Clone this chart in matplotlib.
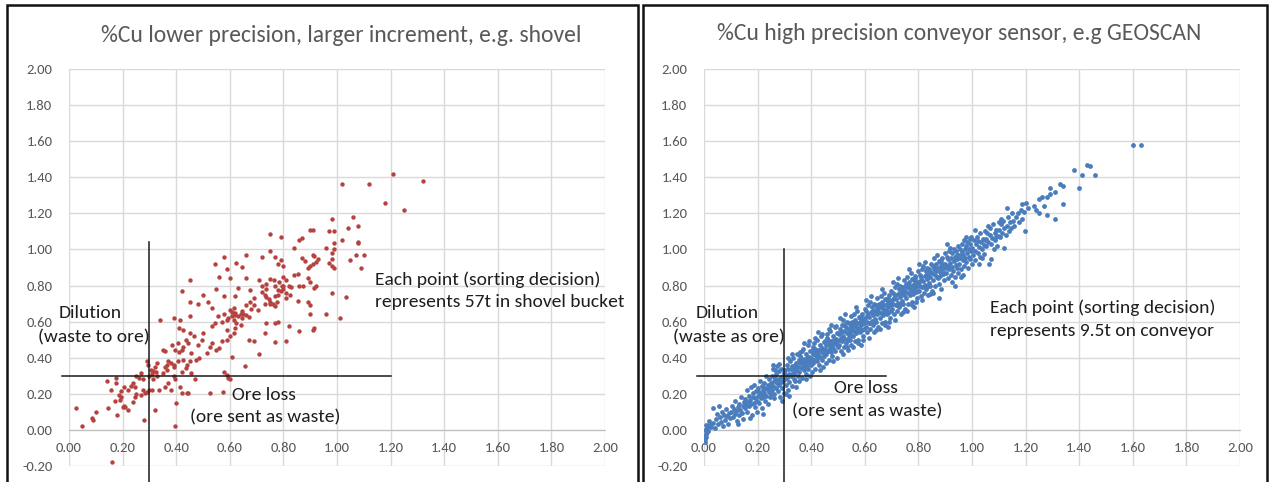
import matplotlib

matplotlib.use("Agg")
import matplotlib.pyplot as plt
from matplotlib import font_manager
from matplotlib.patches import Rectangle

shovel_pts = [
    (1.21, 1.42), (1.32, 1.38), (1.02, 1.36), (1.12, 1.36), (1.18, 1.26), (1.25, 1.22),
    (1.06, 1.18), (0.98, 1.17), (1.08, 1.13), (0.90, 1.11), (0.91, 1.11), (1.04, 1.12),
    (0.97, 1.10), (0.99, 1.10), (0.75, 1.085), (0.79, 1.07), (0.87, 1.065), (0.86, 1.05),
    (1.02, 1.05), (1.08, 1.04), (1.08, 1.035), (0.99, 1.035), (0.84, 1.01), (0.96, 1.01),
    (0.99, 1.00), (0.75, 0.99), (0.66, 0.97), (0.91, 0.97), (0.915, 0.965), (0.58, 0.96),
    (0.77, 0.96), (0.72, 0.96), (0.93, 0.945), (0.92, 0.93), (0.91, 0.92), (0.98, 0.98),
    (0.98, 0.945), (1.07, 0.97), (1.10, 0.97), (1.05, 0.94), (0.79, 0.94), (0.78, 0.92),
    (0.80, 0.91), (0.625, 0.925), (0.645, 0.905), (0.545, 0.92), (0.59, 0.89), (0.98, 0.91),
    (0.99, 0.90), (0.97, 0.925), (1.09, 0.895), (0.89, 0.90), (0.90, 0.91), (0.88, 0.935),
    (0.87, 0.95), (0.45, 0.83), (0.42, 0.77), (0.45, 0.71), (0.48, 0.70), (0.50, 0.75),
    (0.52, 0.71), (0.535, 0.675), (0.55, 0.78), (0.56, 0.85), (0.58, 0.74), (0.60, 0.84),
    (0.62, 0.74), (0.63, 0.785), (0.66, 0.84), (0.675, 0.775), (0.69, 0.73), (0.71, 0.83),
    (0.72, 0.80), (0.735, 0.81), (0.735, 0.78), (0.75, 0.835), (0.765, 0.83), (0.77, 0.795),
    (0.785, 0.82), (0.80, 0.80), (0.78, 0.775), (0.80, 0.85), (0.81, 0.83), (0.82, 0.795),
    (0.83, 0.79), (0.84, 0.86), (0.855, 0.865), (0.86, 0.795), (0.875, 0.80), (0.89, 0.84),
    (0.90, 0.82), (0.915, 0.785), (0.92, 0.795), (0.98, 0.76), (1.035, 0.735), (0.90, 0.69),
    (0.89, 0.71), (0.855, 0.715), (0.96, 0.645), (1.01, 0.62), (0.90, 0.64), (0.86, 0.55),
    (0.91, 0.555), (0.915, 0.565), (0.72, 0.765), (0.73, 0.75), (0.735, 0.735), (0.745, 0.725),
    (0.75, 0.71), (0.76, 0.70), (0.77, 0.74), (0.775, 0.71), (0.78, 0.75), (0.75, 0.70),
    (0.77, 0.685), (0.73, 0.70), (0.69, 0.69), (0.705, 0.665), (0.66, 0.69), (0.675, 0.71),
    (0.68, 0.67), (0.645, 0.66), (0.65, 0.64), (0.62, 0.65), (0.61, 0.63), (0.615, 0.61),
    (0.595, 0.62), (0.58, 0.64), (0.59, 0.61), (0.57, 0.60), (0.555, 0.63), (0.545, 0.595),
    (0.535, 0.575), (0.60, 0.665), (0.615, 0.675), (0.735, 0.595), (0.77, 0.59), (0.78, 0.60),
    (0.71, 0.42), (0.67, 0.50), (0.69, 0.49), (0.77, 0.485), (0.81, 0.49), (0.82, 0.575),
    (0.73, 0.535), (0.655, 0.355), (0.61, 0.405), (0.615, 0.535), (0.62, 0.565), (0.59, 0.555),
    (0.60, 0.52), (0.59, 0.50), (0.57, 0.49), (0.56, 0.455), (0.55, 0.445), (0.525, 0.46),
    (0.535, 0.48), (0.515, 0.425), (0.495, 0.50), (0.50, 0.535), (0.48, 0.47), (0.485, 0.40),
    (0.475, 0.39), (0.465, 0.52), (0.45, 0.535), (0.435, 0.50), (0.445, 0.48), (0.425, 0.46),
    (0.42, 0.445), (0.415, 0.61), (0.45, 0.63), (0.34, 0.61), (0.39, 0.62), (0.41, 0.565),
    (0.425, 0.555), (0.405, 0.48), (0.395, 0.445), (0.41, 0.43), (0.36, 0.435), (0.35, 0.445),
    (0.37, 0.38), (0.38, 0.37), (0.39, 0.36), (0.36, 0.35), (0.365, 0.33), (0.35, 0.315),
    (0.32, 0.35), (0.33, 0.37), (0.29, 0.38), (0.295, 0.36), (0.305, 0.33), (0.315, 0.325),
    (0.325, 0.32), (0.31, 0.31), (0.33, 0.30), (0.315, 0.28), (0.30, 0.30), (0.27, 0.315),
    (0.26, 0.285), (0.275, 0.28), (0.25, 0.30), (0.24, 0.26), (0.245, 0.24), (0.23, 0.245),
    (0.205, 0.24), (0.22, 0.22), (0.175, 0.285), (0.175, 0.26), (0.14, 0.27), (0.195, 0.215),
    (0.185, 0.195), (0.195, 0.185), (0.19, 0.165), (0.155, 0.22), (0.17, 0.16), (0.205, 0.13),
    (0.20, 0.125), (0.21, 0.125), (0.22, 0.11), (0.24, 0.155), (0.27, 0.195), (0.275, 0.22),
    (0.285, 0.205), (0.29, 0.21), (0.30, 0.22), (0.25, 0.20), (0.245, 0.185), (0.31, 0.22),
    (0.335, 0.22), (0.32, 0.11), (0.28, 0.055), (0.145, 0.12), (0.10, 0.10), (0.085, 0.065),
    (0.09, 0.055), (0.025, 0.12), (0.05, 0.02), (0.18, 0.085), (0.16, -0.18), (0.395, 0.02),
    (0.40, 0.15), (0.36, 0.24), (0.37, 0.26), (0.38, 0.22), (0.39, 0.30), (0.395, 0.28),
    (0.415, 0.24), (0.42, 0.205), (0.44, 0.205), (0.445, 0.205), (0.47, 0.28), (0.455, 0.315),
    (0.525, 0.205), (0.575, 0.21), (0.58, 0.32), (0.59, 0.305), (0.595, 0.29), (0.60, 0.28),
    (0.42, 0.32), (0.435, 0.345), (0.44, 0.36), (0.45, 0.38), (0.425, 0.39), (0.405, 0.38),
    (0.455, 0.425), (0.385, 0.47), (0.39, 0.35), (0.365, 0.36), (0.61, 0.655), (0.62, 0.635),
    (0.63, 0.63), (0.64, 0.645), (0.645, 0.62), (0.66, 0.635), (0.67, 0.625), (0.625, 0.59),
    (0.64, 0.58), (0.795, 0.795), (0.80, 0.78), (0.81, 0.76), (0.79, 0.77), (0.81, 0.73),
    (0.825, 0.75),
]

conveyor_low = [
    (0.003, -0.065), (0.005, -0.05), (0.004, -0.035), (0.008, -0.04), (0.006, -0.02), (0.010, -0.01),
    (0.004, 0.0), (0.012, 0.01), (0.015, -0.005), (0.018, 0.02), (0.022, 0.03), (0.009, 0.025),
    (0.026, 0.015), (0.020, 0.05),
    (0.032, 0.04), (0.035, 0.12), (0.040, 0.01), (0.045, 0.06), (0.048, 0.09), (0.052, 0.03),
    (0.055, 0.13), (0.058, 0.07), (0.062, 0.045), (0.066, 0.10), (0.070, 0.02), (0.073, 0.08),
    (0.077, 0.055), (0.081, 0.115), (0.085, 0.075), (0.089, 0.035), (0.093, 0.095), (0.097, 0.065),
    (0.102, 0.10), (0.105, 0.13), (0.108, 0.07), (0.111, 0.115), (0.114, 0.09), (0.117, 0.16),
    (0.120, 0.105), (0.123, 0.05), (0.126, 0.125), (0.129, 0.085), (0.132, 0.145), (0.135, 0.11),
    (0.138, 0.18), (0.141, 0.095), (0.144, 0.13), (0.147, 0.06), (0.128, 0.03), (0.149, 0.155),
    (0.152, 0.12), (0.154, 0.17), (0.157, 0.14), (0.159, 0.22), (0.162, 0.10), (0.164, 0.155),
    (0.167, 0.19), (0.169, 0.13), (0.172, 0.165), (0.174, 0.24), (0.177, 0.145), (0.179, 0.085),
    (0.182, 0.18), (0.184, 0.205), (0.187, 0.15), (0.189, 0.125), (0.192, 0.175), (0.194, 0.215),
    (0.196, 0.16), (0.198, 0.10), (0.171, 0.065), (0.186, 0.25),
    (0.201, 0.19), (0.203, 0.23), (0.205, 0.15), (0.207, 0.21), (0.209, 0.27), (0.211, 0.175),
    (0.213, 0.2), (0.215, 0.245), (0.217, 0.12), (0.219, 0.22), (0.221, 0.185), (0.223, 0.26),
    (0.225, 0.205), (0.227, 0.16), (0.229, 0.235), (0.231, 0.3), (0.233, 0.19), (0.235, 0.225),
    (0.237, 0.145), (0.239, 0.25), (0.241, 0.21), (0.243, 0.28), (0.245, 0.18), (0.247, 0.24),
    (0.249, 0.2), (0.222, 0.09),
    (0.251, 0.26), (0.253, 0.22), (0.255, 0.3), (0.257, 0.245), (0.259, 0.34), (0.261, 0.27),
    (0.263, 0.2), (0.265, 0.285), (0.267, 0.235), (0.269, 0.31), (0.271, 0.26), (0.273, 0.355),
    (0.275, 0.215), (0.277, 0.275), (0.279, 0.325), (0.281, 0.25), (0.283, 0.29), (0.285, 0.185),
    (0.287, 0.265), (0.289, 0.34), (0.291, 0.23), (0.293, 0.3), (0.295, 0.27), (0.297, 0.205),
    (0.299, 0.315), (0.258, 0.36), (0.266, 0.33), (0.278, 0.365), (0.29, 0.16), (0.262, 0.175),
]

conveyor_mid = [
    (0.301, 0.28), (0.303, 0.33), (0.305, 0.25), (0.307, 0.305), (0.309, 0.36), (0.311, 0.29),
    (0.313, 0.22), (0.315, 0.34), (0.317, 0.31), (0.319, 0.265), (0.321, 0.38), (0.323, 0.3),
    (0.325, 0.335), (0.327, 0.245), (0.329, 0.355), (0.331, 0.315), (0.333, 0.4), (0.335, 0.28),
    (0.337, 0.345), (0.339, 0.325), (0.341, 0.27), (0.343, 0.37), (0.345, 0.33), (0.347, 0.42),
    (0.349, 0.3), (0.306, 0.2), (0.318, 0.19), (0.328, 0.42), (0.338, 0.36), (0.344, 0.24),
    (0.312, 0.4), (0.334, 0.31),
    (0.351, 0.35), (0.353, 0.39), (0.355, 0.32), (0.357, 0.37), (0.359, 0.43), (0.361, 0.345),
    (0.363, 0.4), (0.365, 0.29), (0.367, 0.38), (0.369, 0.36), (0.371, 0.45), (0.373, 0.33),
    (0.375, 0.395), (0.377, 0.37), (0.379, 0.31), (0.381, 0.42), (0.383, 0.355), (0.385, 0.385),
    (0.387, 0.47), (0.389, 0.34), (0.391, 0.405), (0.393, 0.375), (0.395, 0.3), (0.397, 0.435),
    (0.399, 0.36), (0.356, 0.27), (0.366, 0.44), (0.374, 0.48), (0.382, 0.28), (0.392, 0.49),
    (0.358, 0.41), (0.372, 0.35), (0.386, 0.4), (0.398, 0.39),
    (0.401, 0.4), (0.403, 0.44), (0.405, 0.37), (0.407, 0.42), (0.409, 0.48), (0.411, 0.39),
    (0.413, 0.45), (0.415, 0.34), (0.417, 0.43), (0.419, 0.41), (0.421, 0.5), (0.423, 0.38),
    (0.425, 0.445), (0.427, 0.42), (0.429, 0.36), (0.431, 0.47), (0.433, 0.405), (0.435, 0.435),
    (0.437, 0.52), (0.439, 0.39), (0.441, 0.455), (0.443, 0.425), (0.445, 0.35), (0.447, 0.485),
    (0.449, 0.41), (0.404, 0.32), (0.416, 0.51), (0.424, 0.54), (0.432, 0.33), (0.442, 0.53),
    (0.408, 0.46), (0.422, 0.4), (0.436, 0.45), (0.448, 0.44),
    (0.451, 0.45), (0.453, 0.49), (0.455, 0.42), (0.457, 0.47), (0.459, 0.53), (0.461, 0.44),
    (0.463, 0.5), (0.465, 0.39), (0.467, 0.48), (0.469, 0.46), (0.471, 0.55), (0.473, 0.43),
    (0.475, 0.495), (0.477, 0.47), (0.479, 0.41), (0.481, 0.52), (0.483, 0.455), (0.485, 0.485),
    (0.487, 0.57), (0.489, 0.44), (0.491, 0.505), (0.493, 0.475), (0.495, 0.4), (0.497, 0.535),
    (0.499, 0.46), (0.454, 0.37), (0.466, 0.56), (0.474, 0.58), (0.482, 0.38), (0.492, 0.575),
    (0.458, 0.51), (0.472, 0.45), (0.486, 0.5), (0.498, 0.49),
    (0.502, 0.53), (0.504, 0.47), (0.506, 0.56), (0.508, 0.5), (0.51, 0.44), (0.512, 0.54),
    (0.514, 0.58), (0.516, 0.49), (0.518, 0.52), (0.52, 0.61), (0.522, 0.46), (0.524, 0.55),
    (0.526, 0.505), (0.528, 0.57), (0.53, 0.48), (0.532, 0.535), (0.534, 0.6), (0.536, 0.445),
    (0.538, 0.56), (0.54, 0.515), (0.542, 0.59), (0.544, 0.5), (0.546, 0.545), (0.548, 0.63),
    (0.55, 0.47), (0.507, 0.62), (0.517, 0.42), (0.527, 0.64), (0.537, 0.5), (0.547, 0.575),
    (0.511, 0.51), (0.523, 0.58), (0.533, 0.46), (0.545, 0.53),
    (0.551, 0.56), (0.553, 0.6), (0.555, 0.52), (0.557, 0.58), (0.559, 0.64), (0.561, 0.55),
    (0.563, 0.49), (0.565, 0.61), (0.567, 0.57), (0.569, 0.535), (0.571, 0.66), (0.573, 0.59),
    (0.575, 0.5), (0.577, 0.625), (0.579, 0.565), (0.581, 0.545), (0.583, 0.6), (0.585, 0.47),
    (0.587, 0.58), (0.589, 0.645), (0.591, 0.555), (0.593, 0.61), (0.595, 0.52), (0.597, 0.59),
    (0.599, 0.67), (0.556, 0.46), (0.566, 0.68), (0.576, 0.48), (0.586, 0.63), (0.596, 0.56),
    (0.562, 0.585), (0.572, 0.55), (0.582, 0.62), (0.592, 0.5),
    (0.601, 0.62), (0.603, 0.57), (0.605, 0.66), (0.607, 0.6), (0.609, 0.54), (0.611, 0.645),
    (0.613, 0.69), (0.615, 0.59), (0.617, 0.625), (0.619, 0.71), (0.621, 0.56), (0.623, 0.655),
    (0.625, 0.605), (0.627, 0.68), (0.629, 0.58), (0.631, 0.635), (0.633, 0.7), (0.635, 0.545),
    (0.637, 0.66), (0.639, 0.615), (0.641, 0.69), (0.643, 0.6), (0.645, 0.645), (0.647, 0.73),
    (0.649, 0.57), (0.604, 0.72), (0.614, 0.51), (0.624, 0.74), (0.634, 0.6), (0.644, 0.675),
    (0.608, 0.63), (0.62, 0.59), (0.63, 0.66), (0.642, 0.555),
    (0.651, 0.66), (0.653, 0.7), (0.655, 0.62), (0.657, 0.68), (0.659, 0.74), (0.661, 0.65),
    (0.663, 0.59), (0.665, 0.71), (0.667, 0.67), (0.669, 0.635), (0.671, 0.76), (0.673, 0.69),
    (0.675, 0.6), (0.677, 0.725), (0.679, 0.665), (0.681, 0.645), (0.683, 0.7), (0.685, 0.57),
    (0.687, 0.68), (0.689, 0.745), (0.691, 0.655), (0.693, 0.71), (0.695, 0.62), (0.697, 0.69),
    (0.699, 0.77), (0.656, 0.56), (0.666, 0.78), (0.676, 0.58), (0.686, 0.73), (0.696, 0.66),
    (0.662, 0.685), (0.672, 0.65), (0.682, 0.72), (0.692, 0.6),
]

conveyor_high = [
    (0.701, 0.72), (0.703, 0.67), (0.705, 0.76), (0.707, 0.7), (0.709, 0.64), (0.711, 0.745),
    (0.713, 0.79), (0.715, 0.69), (0.717, 0.725), (0.719, 0.81), (0.721, 0.66), (0.723, 0.755),
    (0.725, 0.705), (0.727, 0.78), (0.729, 0.68), (0.731, 0.735), (0.733, 0.8), (0.735, 0.645),
    (0.737, 0.76), (0.739, 0.715), (0.741, 0.79), (0.743, 0.7), (0.745, 0.745), (0.747, 0.83),
    (0.749, 0.67), (0.704, 0.82), (0.714, 0.61), (0.724, 0.84), (0.734, 0.7), (0.744, 0.775),
    (0.708, 0.73), (0.72, 0.69), (0.73, 0.76), (0.742, 0.655),
    (0.751, 0.77), (0.753, 0.81), (0.755, 0.73), (0.757, 0.79), (0.759, 0.85), (0.761, 0.76),
    (0.763, 0.7), (0.765, 0.82), (0.767, 0.78), (0.769, 0.745), (0.771, 0.87), (0.773, 0.8),
    (0.775, 0.71), (0.777, 0.835), (0.779, 0.775), (0.781, 0.755), (0.783, 0.81), (0.785, 0.68),
    (0.787, 0.79), (0.789, 0.855), (0.791, 0.765), (0.793, 0.82), (0.795, 0.73), (0.797, 0.8),
    (0.799, 0.88), (0.756, 0.66), (0.766, 0.89), (0.776, 0.69), (0.786, 0.84), (0.796, 0.77),
    (0.762, 0.795), (0.772, 0.76), (0.782, 0.83), (0.792, 0.71),
    (0.801, 0.82), (0.803, 0.77), (0.805, 0.86), (0.807, 0.8), (0.809, 0.74), (0.811, 0.845),
    (0.813, 0.89), (0.815, 0.79), (0.817, 0.825), (0.819, 0.91), (0.821, 0.76), (0.823, 0.855),
    (0.825, 0.805), (0.827, 0.88), (0.829, 0.78), (0.831, 0.835), (0.833, 0.9), (0.835, 0.745),
    (0.837, 0.86), (0.839, 0.815), (0.841, 0.89), (0.843, 0.8), (0.845, 0.845), (0.847, 0.92),
    (0.849, 0.77), (0.804, 0.92), (0.814, 0.72), (0.824, 0.93), (0.834, 0.8), (0.844, 0.875),
    (0.808, 0.83), (0.82, 0.79), (0.83, 0.86), (0.842, 0.755),
    (0.851, 0.87), (0.853, 0.91), (0.855, 0.83), (0.857, 0.89), (0.859, 0.95), (0.861, 0.86),
    (0.863, 0.8), (0.865, 0.92), (0.867, 0.88), (0.869, 0.845), (0.871, 0.97), (0.873, 0.9),
    (0.875, 0.81), (0.877, 0.935), (0.879, 0.875), (0.881, 0.855), (0.883, 0.91), (0.885, 0.78),
    (0.887, 0.89), (0.889, 0.955), (0.891, 0.865), (0.893, 0.92), (0.895, 0.83), (0.897, 0.9),
    (0.899, 0.98), (0.856, 0.76), (0.878, 0.73), (0.886, 0.94), (0.896, 0.87), (0.862, 0.895),
    (0.872, 0.84), (0.882, 0.93),
    (0.901, 0.92), (0.903, 0.87), (0.905, 0.96), (0.907, 0.9), (0.909, 0.84), (0.911, 0.945),
    (0.913, 0.99), (0.915, 0.89), (0.917, 0.925), (0.919, 1.01), (0.921, 0.86), (0.923, 0.955),
    (0.925, 0.905), (0.927, 0.98), (0.929, 0.88), (0.931, 0.935), (0.933, 1.0), (0.935, 0.845),
    (0.937, 0.96), (0.939, 0.915), (0.941, 0.99), (0.943, 0.9), (0.945, 0.945), (0.947, 1.02),
    (0.949, 0.87), (0.906, 1.03), (0.926, 0.82), (0.936, 0.8), (0.944, 0.97), (0.912, 0.91),
    (0.951, 0.97), (0.953, 0.92), (0.955, 1.0), (0.957, 0.95), (0.959, 0.89), (0.961, 0.985),
    (0.963, 1.03), (0.965, 0.94), (0.967, 0.97), (0.969, 1.05), (0.971, 0.91), (0.973, 1.0),
    (0.975, 0.955), (0.977, 1.02), (0.979, 0.93), (0.981, 0.98), (0.983, 1.04), (0.985, 0.895),
    (0.987, 1.0), (0.989, 0.96), (0.991, 1.03), (0.993, 0.945), (0.995, 0.99), (0.997, 1.07),
    (0.999, 0.92), (0.958, 0.85), (0.968, 0.86), (0.978, 1.07), (0.992, 1.06),
    (1.001, 1.01), (1.004, 0.97), (1.007, 1.05), (1.01, 0.99), (1.013, 0.94), (1.016, 1.03),
    (1.019, 1.07), (1.022, 0.98), (1.025, 1.015), (1.028, 1.09), (1.031, 0.96), (1.034, 1.04),
    (1.037, 1.0), (1.04, 1.06), (1.043, 0.975), (1.046, 1.025), (1.049, 1.1), (1.012, 1.11),
    (1.026, 0.92), (1.038, 0.95), (1.047, 1.05), (1.021, 1.045),
    (1.051, 1.06), (1.054, 1.02), (1.057, 1.09), (1.06, 1.04), (1.063, 0.92), (1.066, 1.08),
    (1.069, 1.12), (1.072, 1.03), (1.075, 1.065), (1.078, 1.14), (1.081, 1.0), (1.084, 1.09),
    (1.087, 1.05), (1.09, 1.11), (1.093, 1.02), (1.096, 1.075), (1.099, 1.15), (1.07, 0.945),
    (1.058, 1.13), (1.088, 1.07),
    (1.101, 1.11), (1.105, 1.07), (1.109, 1.14), (1.113, 1.09), (1.117, 1.16), (1.121, 1.12),
    (1.125, 1.08), (1.129, 1.13), (1.133, 1.18), (1.137, 1.1), (1.141, 1.15), (1.145, 1.12),
    (1.149, 1.2), (1.12, 1.01), (1.131, 1.23), (1.107, 1.17),
    (1.152, 1.16), (1.158, 1.13), (1.164, 1.18), (1.17, 1.2), (1.176, 1.15), (1.182, 1.22),
    (1.188, 1.17), (1.194, 1.21), (1.198, 1.1), (1.185, 1.25),
    (1.20, 1.26), (1.21, 1.23), (1.23, 1.24), (1.24, 1.22), (1.25, 1.20), (1.25, 1.28),
    (1.26, 1.29), (1.27, 1.24), (1.28, 1.19), (1.28, 1.29), (1.29, 1.31), (1.29, 1.34),
    (1.31, 1.17), (1.31, 1.32), (1.33, 1.36), (1.34, 1.35), (1.34, 1.25), (1.38, 1.44),
    (1.40, 1.34), (1.41, 1.41), (1.43, 1.47), (1.44, 1.46), (1.46, 1.41), (1.60, 1.58),
    (1.63, 1.58),
]

ticks = [-0.2, 0.0, 0.2, 0.4, 0.6, 0.8, 1.0, 1.2, 1.4, 1.6, 1.8, 2.0]
titles = ["%Cu lower precision, larger increment, e.g. shovel",
          "%Cu high precision conveyor sensor, e.g GEOSCAN"]
dilution_labels = ["(waste to ore)", "(waste as ore)"]
each_point_labels = [("Each point (sorting decision)", "represents 57t in shovel bucket"),
                     ("Each point (sorting decision)", "represents 9.5t on conveyor")]
cutoff = 0.30
cross_h_end = [1.20, 0.68]       # end of the horizontal cut-off line
cross_v_top = [1.04, 1.00]       # top of the vertical cut-off line


def pick_font():
    names = {f.name for f in font_manager.fontManager.ttflist}
    for cand in ["Carlito", "Lato", "Open Sans", "DejaVu Sans"]:
        if cand in names:
            return cand
    return "DejaVu Sans"


FONT = pick_font()
plt.rcParams["font.family"] = [FONT, "DejaVu Sans"]

W, H = 1271, 482
fig = plt.figure(figsize=(W / 100, H / 100), dpi=100)

# panel frames
for x0, x1 in [(7, 638), (643, 1267)]:
    fig.patches.append(Rectangle((x0 / W, -0.05), (x1 - x0) / W, 1.05 - 5 / H,
                                 transform=fig.transFigure, fill=False,
                                 edgecolor="#111111", linewidth=1.8))

axes_px = [(69, 605), (704, 1240)]
series = [(shovel_pts, "#b5423e", 10), (conveyor_low + conveyor_mid + conveyor_high, "#4a7dbd", 12)]
title_pos = [(341, 36), (959, 33)]
text_pos = [
    {"dil": (-0.04, 0.65), "waste": (-0.116, 0.515), "ore": (0.61, 0.195), "sent": (0.45, 0.07),
     "each": (1.14, 0.835, 0.71)},
    {"dil": (-0.03, 0.65), "waste": (-0.116, 0.515), "ore": (0.485, 0.23), "sent": (0.33, 0.105),
     "each": (1.067, 0.675, 0.55)},
]

for i in range(2):
    xl, xr = axes_px[i]
    ax = fig.add_axes([xl / W, 1 - 466 / H, (xr - xl) / W, (466 - 69) / H])
    pts, color, size = series[i]
    xs = [p[0] for p in pts]
    ys = [p[1] for p in pts]
    ax.scatter(xs, ys, s=size, color=color, linewidths=0, zorder=3)

    ax.set_xlim(0, 2.0)
    ax.set_ylim(-0.2, 2.0)
    ax.set_xticks([t for t in ticks if t >= 0])
    ax.set_yticks(ticks)
    ax.set_xticklabels([f"{t:.2f}" for t in ticks if t >= 0])
    ax.set_yticklabels([f"{t:.2f}" for t in ticks])
    ax.grid(True, color="#d9d9d9", linewidth=1.0, zorder=0)
    ax.set_axisbelow(True)
    for side in ["top", "right", "left"]:
        ax.spines[side].set_visible(False)
    ax.spines["bottom"].set_position(("data", 0))
    ax.spines["bottom"].set_color("#bfbfbf")
    ax.tick_params(axis="both", length=0, labelsize=10.5, labelcolor="#595959")
    ax.tick_params(axis="x", pad=9)
    ax.tick_params(axis="y", pad=12)

    # cut-off cross
    ax.plot([-0.025, cross_h_end[i]], [cutoff, cutoff], color="#1a1a1a", lw=1.1,
            clip_on=False, zorder=4)
    ax.plot([cutoff, cutoff], [-0.32, cross_v_top[i]], color="#1a1a1a", lw=1.1,
            clip_on=False, zorder=4)

    tp = text_pos[i]
    tc = "#1e1e1e"
    fs = 14
    ax.text(*tp["dil"], "Dilution", fontsize=fs, color=tc, va="center", ha="left", zorder=5)
    ax.text(*tp["waste"], dilution_labels[i], fontsize=fs, color=tc, va="center", ha="left", zorder=5)
    ax.text(*tp["ore"], "Ore loss", fontsize=fs, color=tc, va="center", ha="left", zorder=5)
    ax.text(*tp["sent"], "(ore sent as waste)", fontsize=fs, color=tc, va="center", ha="left", zorder=5)
    ex, ey1, ey2 = tp["each"]
    ax.text(ex, ey1, each_point_labels[i][0], fontsize=fs, color=tc, va="center", ha="left", zorder=5)
    ax.text(ex, ey2, each_point_labels[i][1], fontsize=fs, color=tc, va="center", ha="left", zorder=5)

    tx, ty = title_pos[i]
    fig.text(tx / W, 1 - ty / H, titles[i], fontsize=17, color="#595959", ha="center", va="center")

fig.savefig("out.png", dpi=100)
